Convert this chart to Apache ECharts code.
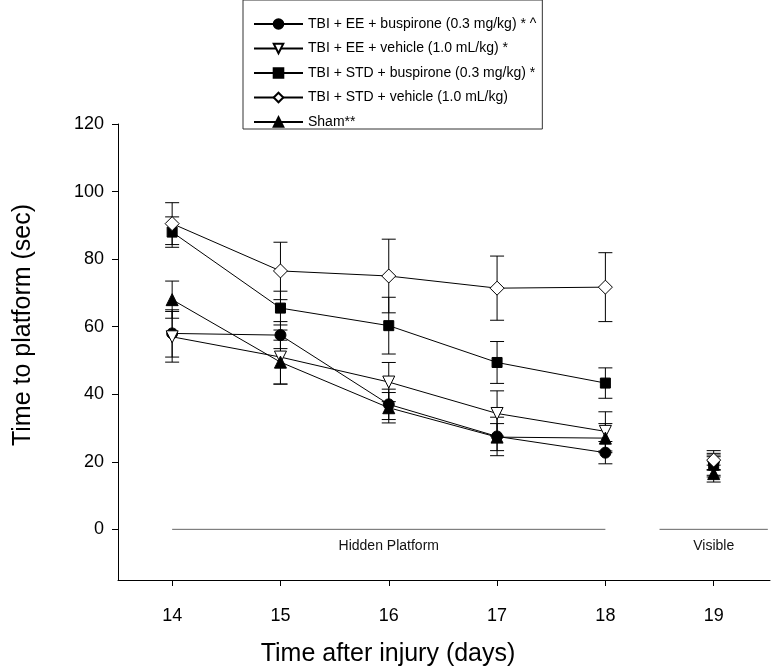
<!DOCTYPE html>
<html>
<head>
<meta charset="utf-8">
<script src="https://cdn.jsdelivr.net/npm/echarts@6/dist/echarts.min.js"></script>
<style>
html,body{margin:0;padding:0;background:#fff;}
#chart{width:771px;height:666px;}
</style>
</head>
<body>
<div id="chart"></div>
<script>
// ---- data ----
const days = [14, 15, 16, 17, 18, 19];
const yTicks = [0, 20, 40, 60, 80, 100, 120];

const eeBusName = 'TBI + EE + buspirone (0.3 mg/kg) * ^';
const eeBusMean = [58, 57.5, 37, 27.5, 22.7, 20];
const eeBusErr  = [7, 4, 4.5, 5.7, 3.3, 2.5];

const eeVehName = 'TBI + EE + vehicle (1.0 mL/kg) *';
const eeVehMean = [57, 51, 43.6, 34.3, 29, 18.5];
const eeVehErr  = [7.5, 8, 5.8, 6.7, 5.8, 3];

const stdBusName = 'TBI + STD + buspirone (0.3 mg/kg) *';
const stdBusMean = [88, 65.5, 60.3, 49.4, 43.3, 19];
const stdBusErr  = [4.5, 5, 8.4, 6.2, 4.5, 3];

const stdVehName = 'TBI + STD + vehicle (1.0 mL/kg)';
const stdVehMean = [90.5, 76.5, 75, 71.4, 71.7, 20.5];
const stdVehErr  = [6.2, 8.5, 10.9, 9.5, 10.2, 2.8];

const shamName = 'Sham**';
const shamMean = [68, 49.5, 36, 27.3, 27, 16.5];
const shamErr  = [5.5, 6.5, 4.5, 4, 4.3, 2.5];

const phases = [
  { label: 'Hidden Platform', start: 14, end: 18 },
  { label: 'Visible', start: 18.5, end: 19.5 }
];

// ---- build ----
function lineData(mean) {
  const out = [];
  for (let i = 0; i < days.length; i++) {
    if (days[i] === 19) out.push([18.5, '-']); // break between hidden and visible
    out.push([days[i], mean[i]]);
  }
  return out;
}
function errData(mean, err) {
  return days.map((d, i) => [d, mean[i], err[i]]);
}
function errRender(params, api) {
  const x = api.value(0), m = api.value(1), e = api.value(2);
  const t = api.coord([x, m + e]);
  const b = api.coord([x, m - e]);
  const hw = 7;
  const st = { stroke: '#000', lineWidth: 1 };
  return {
    type: 'group',
    children: [
      { type: 'line', shape: { x1: t[0], y1: t[1], x2: b[0], y2: b[1] }, style: st },
      { type: 'line', shape: { x1: t[0] - hw, y1: t[1], x2: t[0] + hw, y2: t[1] }, style: st },
      { type: 'line', shape: { x1: b[0] - hw, y1: b[1], x2: b[0] + hw, y2: b[1] }, style: st }
    ]
  };
}

const groups = [
  { name: eeBusName, mean: eeBusMean, err: eeBusErr, symbol: 'circle', size: 11, fill: '#000', rot: 0 },
  { name: eeVehName, mean: eeVehMean, err: eeVehErr, symbol: 'triangle', size: 12, fill: '#fff', rot: 180 },
  { name: stdBusName, mean: stdBusMean, err: stdBusErr, symbol: 'rect', size: 10, fill: '#000', rot: 0 },
  { name: stdVehName, mean: stdVehMean, err: stdVehErr, symbol: 'diamond', size: 14, fill: '#fff', rot: 0 },
  { name: shamName, mean: shamMean, err: shamErr, symbol: 'triangle', size: 12, fill: '#000', rot: 0 }
];

const font = '"Liberation Sans", Arial, Helvetica, sans-serif';

const series = [];
series.push({
  type: 'custom',
  name: 'phases',
  silent: true,
  data: phases.map(p => [p.start, p.end]),
  encode: { x: [0, 1], y: [] },
  renderItem: function (params, api) {
    const p = phases[params.dataIndex];
    const a = api.coord([p.start, 0]);
    const b = api.coord([p.end, 0]);
    return {
      type: 'group',
      children: [
        { type: 'line', shape: { x1: a[0], y1: a[1], x2: b[0], y2: b[1] }, style: { stroke: '#666', lineWidth: 1 } },
        { type: 'text', x: (a[0] + b[0]) / 2, y: a[1] + 17,
          style: { text: p.label, fill: '#111', font: '14px ' + font,
                   textAlign: 'center', textVerticalAlign: 'middle' } }
      ]
    };
  }
});
groups.forEach(g => {
  series.push({
    type: 'custom',
    name: g.name + ' err',
    silent: true,
    data: errData(g.mean, g.err),
    encode: { x: 0, y: 1 },
    renderItem: errRender,
    z: 2
  });
});
groups.forEach(g => {
  series.push({
    type: 'line',
    name: g.name,
    data: lineData(g.mean),
    symbol: g.symbol,
    symbolSize: g.size,
    symbolRotate: g.rot,
    showAllSymbol: true,
    connectNulls: false,
    lineStyle: { color: '#000', width: 1 },
    itemStyle: { color: g.fill, borderColor: '#000', borderWidth: 1, opacity: 1 },
    emphasis: { disabled: true },
    z: 3
  });
});

const chart = echarts.init(document.getElementById('chart'), null, { renderer: 'canvas' });
chart.setOption({
  animation: false,
  backgroundColor: '#fff',
  textStyle: { fontFamily: font, color: '#000' },
  grid: { left: 118, right: 1, top: 124, bottom: 86, containLabel: false, outerBoundsMode: 'none' },
  legend: {
    data: groups.map(g => g.name),
    orient: 'vertical',
    left: 243,
    top: 0,
    itemWidth: 49,
    itemHeight: 12,
    itemGap: 10.5,
    padding: [17, 6, 0, 10],
    borderColor: '#333',
    borderWidth: 1,
    backgroundColor: '#fff',
    selectedMode: false,
    textStyle: { fontFamily: font, fontSize: 14, color: '#000', lineHeight: 14 }
  },
  xAxis: {
    type: 'value',
    min: 13.5,
    max: 19.52,
    name: 'Time after injury (days)',
    nameLocation: 'middle',
    nameGap: 62,
    nameTextStyle: { fontFamily: font, fontSize: 25, color: '#000', padding: [0, 112, 0, 0] },
    axisLine: { show: true, onZero: false, lineStyle: { color: '#000', width: 1 } },
    axisTick: { show: true, customValues: days, length: 6, inside: false, lineStyle: { color: '#000' } },
    axisLabel: { customValues: days, fontFamily: font, fontSize: 18, color: '#000', margin: 27 },
    splitLine: { show: false }
  },
  yAxis: {
    type: 'value',
    min: -15,
    max: 120,
    name: 'Time to platform (sec)',
    nameLocation: 'middle',
    nameGap: 82,
    nameTextStyle: { fontFamily: font, fontSize: 25, color: '#000', padding: [0, 0, 0, 54] },
    axisLine: { show: true, onZero: false, lineStyle: { color: '#000', width: 1 } },
    axisTick: { show: true, customValues: yTicks, length: 6, inside: false, lineStyle: { color: '#000' } },
    axisLabel: { customValues: yTicks, fontFamily: font, fontSize: 18, color: '#000', margin: 14 },
    splitLine: { show: false }
  },
  series: series
});
</script>
</body>
</html>
